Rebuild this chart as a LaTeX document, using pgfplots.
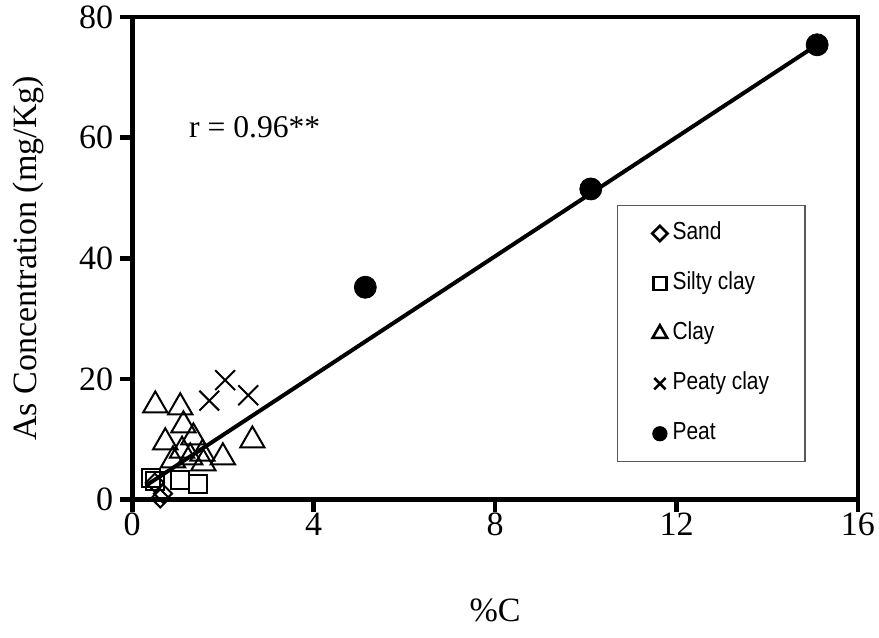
\documentclass[border=0pt]{standalone}
\usepackage{fontspec}
\setmainfont{Liberation Serif}
\newfontfamily\legfont[FakeStretch=0.85]{Liberation Sans}
\usepackage{pgfplots}
\pgfplotsset{compat=1.18}
\pgfplotsset{dotlegend/.style={legend image code/.code={\draw[##1] plot coordinates {(0pt,0pt)};}}}
\begin{document}
\begin{tikzpicture}
\begin{axis}[
  name=ax,
  scale only axis, width=362.5pt, height=241pt,
  xmin=0, xmax=16, ymin=0, ymax=80,
  xtick={0,4,8,12,16}, ytick={0,20,40,60,80},
  tick align=outside, xtick pos=left, ytick pos=left,
  major tick length=6pt,
  axis line style={line width=2.4pt},
  tick style={line width=2.4pt, black},
  tick label style={font=\fontsize{17}{19}\selectfont},
  xticklabel style={yshift=3pt},
  /pgf/number format/assume math mode=true,
  xlabel={\%C}, ylabel={As Concentration (mg/Kg)},
  label style={font=\fontsize{17}{19}\selectfont},
  xlabel style={at={(axis description cs:0.5,0)}, anchor=center, yshift=-55.5pt},
  ylabel style={at={(axis description cs:0,0.5)}, anchor=center, yshift=52pt},
  clip=false,
  legend style={draw=none, fill=none, at={(axis description cs:0.716,0.575)}, anchor=north west,
    inner sep=0pt, row sep=14pt, column sep=2.5pt,
    nodes={inner sep=0pt, text height=8.5pt, text depth=2.5pt},
    font=\legfont\fontsize{12.3}{14}\selectfont},
  legend cell align=left,
]
% legend box
\draw[gray!70!black, line width=0.6pt] (rel axis cs:0.669,0.079) rectangle (rel axis cs:0.927,0.61);
\node[anchor=west, font=\fontsize{15.8}{18}\selectfont] at (axis cs:1.1,61.7) {r = 0.96**};

% explicit outward ticks
\pgfplotsinvokeforeach{0,4,8,12,16}{\draw[line width=2.4pt] (axis cs:#1,0) -- ++(0pt,-6pt);}
\pgfplotsinvokeforeach{0,20,40,60,80}{\draw[line width=2.4pt] (axis cs:0,#1) -- ++(-6pt,0pt);}

\addlegendimage{only marks, mark=square, mark size=2.7pt, mark options={rotate=45, line width=1.3pt}, black, dotlegend}
\addlegendentry{Sand}
\addlegendimage{only marks, mark=square, mark size=3.3pt, mark options={line width=1.3pt}, black, dotlegend}
\addlegendentry{Silty clay}
\addlegendimage{only marks, mark=triangle, mark size=4.2pt, mark options={line width=1.3pt}, black, dotlegend}
\addlegendentry{Clay}
\addlegendimage{only marks, mark=x, mark size=4pt, mark options={line width=1.3pt}, black, dotlegend}
\addlegendentry{Peaty clay}
\addlegendimage{only marks, mark=*, mark size=3.6pt, black, dotlegend}
\addlegendentry{Peat}

% regression line
\addplot[forget plot, black, line width=2pt, no marks] coordinates {(0.3,2.3) (15.1,75.4)};

% Sand
\addplot[forget plot, only marks, black, mark=square, mark size=3.2pt, mark options={rotate=45, line width=1pt}]
  coordinates {(0.5,2.8) (0.68,1.0) (0.62,0.2)};
% Silty clay
\addplot[forget plot, only marks, black, mark=square, mark size=4.5pt, mark options={line width=1pt}]
  coordinates {(0.42,3.6) (0.5,3.0) (1.06,3.2) (1.46,2.6)};
% Clay
\addplot[forget plot, only marks, black, mark=triangle, mark size=7pt, mark options={line width=1pt}]
  coordinates {(0.51,15.6) (1.06,15.3) (1.13,12.3) (0.73,9.5) (1.35,10.3) (2.65,9.8)
               (2.0,7.0) (1.1,8.1) (1.55,7.6) (1.57,6.0) (1.28,7.0) (0.9,6.5)};
% Peaty clay
\addplot[forget plot, only marks, black, mark=x, mark size=7pt, mark options={line width=1pt}]
  coordinates {(1.7,16.4) (2.05,19.8) (2.56,17.3)};
% Peat
\addplot[forget plot, only marks, black, mark=*, mark size=5.5pt]
  coordinates {(5.14,35.2) (10.11,51.5) (15.1,75.4)};
\end{axis}
\pgfresetboundingbox
\path (-66pt,-69pt) rectangle (373pt,249.5pt);
\end{tikzpicture}
\end{document}
